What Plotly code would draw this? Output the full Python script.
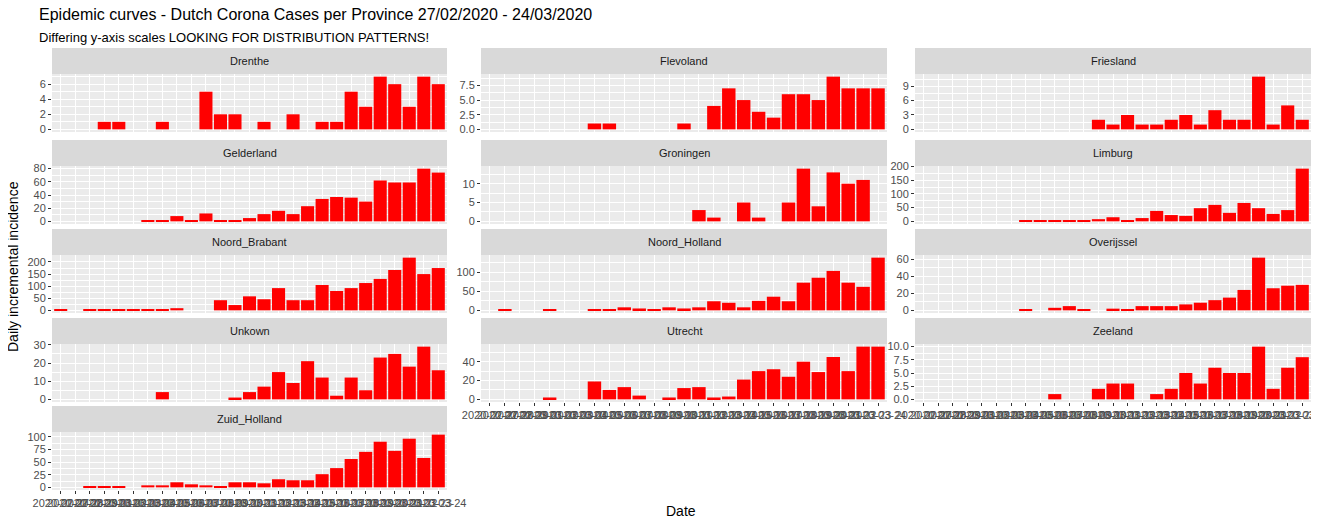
import plotly.graph_objects as go
import pandas as pd

dates = [d.strftime("%Y-%m-%d") for d in pd.date_range("2020-02-27", "2020-03-24")]

provinces = ["Drenthe", "Flevoland", "Friesland", "Gelderland", "Groningen", "Limburg",
             "Noord_Brabant", "Noord_Holland", "Overijssel", "Unkown", "Utrecht", "Zeeland", "Zuid_Holland"]

drenthe = [0,0,0,1,1,0,0,1,0,0,5,2,2,0,1,0,2,0,1,1,5,3,7,6,3,7,6]
flevoland = [0,0,0,0,0,0,0,1,1,0,0,0,0,1,0,4,7,5,3,2,6,6,5,9,7,7,7]
friesland = [0]*12 + [2,1,3,1,1,2,3,1,4,2,2,11,1,5,2]
gelderland = [0]*6 + [1,1,8,2,12,1,2,5,11,16,11,23,34,37,36,30,62,59,59,80,74]
groningen = [0]*14 + [3,1,0,5,1,0,5,14,4,13,10,11,0]
limburg = [0]*7 + [2,5,2,5,5,8,15,5,12,38,23,20,48,60,31,67,48,27,41,192]
noord_brabant = [2,0,2,2,2,2,5,5,9,0,0,42,22,58,46,92,42,42,105,80,92,113,130,167,218,150,175]
noord_holland = [0,2,0,0,2,0,0,2,2,8,5,2,8,5,8,24,20,8,25,36,24,73,86,104,73,62,139]
overijssel = [0]*7 + [1,0,3,5,1,0,2,1,5,5,5,7,9,12,15,24,62,26,29,30]
unkown = [0]*7 + [4,0,0,0,0,1,4,7,15,9,21,12,2,12,5,23,25,18,29,16]
utrecht = [0,0,0,0,2,0,0,19,10,13,4,0,2,12,13,2,3,21,30,32,24,40,29,45,30,56,56]
zeeland = [0]*9 + [1,0,0,2,3,3,0,1,2,5,3,6,5,5,10,2,6,8]
zuid_holland = [0,0,1,1,1,0,4,4,10,6,4,2,10,10,8,16,14,14,26,38,56,70,90,72,96,58,104]

values = [drenthe, flevoland, friesland, gelderland, groningen, limburg, noord_brabant,
          noord_holland, overijssel, unkown, utrecht, zeeland, zuid_holland]

yticks = [
    [0,2,4,6], [0,2.5,5,7.5], [0,3,6,9], [0,20,40,60,80], [0,5,10], [0,50,100,150,200],
    [0,50,100,150,200], [0,50,100], [0,20,40,60], [0,10,20,30], [0,20,40], [0,2.5,5,7.5,10],
    [0,25,50,75,100],
]
ytick_text = [
    ["0","2","4","6"], ["0.0","2.5","5.0","7.5"], ["0","3","6","9"], ["0","20","40","60","80"],
    ["0","5","10"], ["0","50","100","150","200"], ["0","50","100","150","200"], ["0","50","100"],
    ["0","20","40","60"], ["0","10","20","30"], ["0","20","40"], ["0.0","2.5","5.0","7.5","10.0"],
    ["0","25","50","75","100"],
]

OFF = 8  # page body margin
W, H = 1319 - 2 * OFF, 526 - 2 * OFF
col_x = [(52, 447), (481, 887), (915, 1311)]
row_strip_top = [48, 140, 229, 318, 406]
strip_h = 26
panel_h = 58

def px(x):
    return (x - OFF) / W

def py(y):
    return 1 - (y - OFF) / H

fig = go.Figure()
shapes = []
annotations = []
bottom_panels = {12, 10, 11}

for i, (name, vals) in enumerate(zip(provinces, values)):
    r, c = divmod(i, 3)
    x0, x1 = col_x[c]
    st = row_strip_top[r]
    p0 = st + strip_h
    p1 = p0 + panel_h
    n = i + 1
    xa = "x" if n == 1 else f"x{n}"
    ya = "y" if n == 1 else f"y{n}"
    fig.add_trace(go.Bar(x=dates, y=vals, xaxis=xa, yaxis=ya, marker_color="#FF0000",
                         marker_line_width=0, width=0.9, showlegend=False))
    mx = max(vals)
    step = yticks[i][1] - yticks[i][0]
    show_x = i in bottom_panels
    fig.update_layout(**{
        ("xaxis" if n == 1 else f"xaxis{n}"): dict(
            domain=[px(x0), px(x1)], anchor=ya, type="category", automargin=False,
            range=[-0.6, len(dates) - 0.4], showgrid=True, gridcolor="white", gridwidth=1.1,
            tickmode="array", tickvals=dates, ticktext=dates if show_x else [""] * len(dates),
            showticklabels=show_x, tickangle=0, ticks="outside" if show_x else "",
            ticklen=3, tickcolor="#333333", tickfont=dict(size=11, color="#4D4D4D"),
            zeroline=False, fixedrange=True),
        ("yaxis" if n == 1 else f"yaxis{n}"): dict(
            domain=[py(p1), py(p0)], anchor=xa, automargin=False,
            range=[-0.05 * mx, 1.05 * mx], tickmode="array", tickvals=yticks[i],
            ticktext=ytick_text[i], ticks="outside", ticklen=3, tickcolor="#333333",
            tickfont=dict(size=11, color="#4D4D4D"), showgrid=True, gridcolor="white",
            gridwidth=1.1, zeroline=False,
            minor=dict(showgrid=True, gridcolor="white", gridwidth=0.5, dtick=step / 2,
                       tick0=0),
            fixedrange=True),
    })
    shapes.append(dict(type="rect", xref="paper", yref="paper", x0=px(x0), x1=px(x1),
                       y0=py(p1), y1=py(p0), fillcolor="#EBEBEB", line_width=0,
                       layer="below"))
    shapes.append(dict(type="rect", xref="paper", yref="paper", x0=px(x0), x1=px(x1),
                       y0=py(p0), y1=py(st), fillcolor="#D9D9D9", line_width=0))
    annotations.append(dict(text=name, xref="paper", yref="paper", x=px((x0 + x1) / 2),
                            y=py(st + strip_h / 2), showarrow=False,
                            font=dict(size=11, color="#1A1A1A"), xanchor="center",
                            yanchor="middle"))

annotations += [
    dict(text="Epidemic curves - Dutch Corona Cases per Province 27/02/2020 - 24/03/2020",
         xref="paper", yref="paper", x=px(37), y=py(15), showarrow=False,
         xanchor="left", yanchor="middle", font=dict(size=16, color="black")),
    dict(text="Differing y-axis scales LOOKING FOR DISTRIBUTION PATTERNS!",
         xref="paper", yref="paper", x=px(37), y=py(37), showarrow=False,
         xanchor="left", yanchor="middle", font=dict(size=13, color="black")),
    dict(text="Date", xref="paper", yref="paper", x=px(681), y=py(511), showarrow=False,
         xanchor="center", yanchor="middle", font=dict(size=14, color="black")),
    dict(text="Daily incremental incidence", xref="paper", yref="paper", x=px(13),
         y=py(267), showarrow=False, textangle=-90, xanchor="center", yanchor="middle",
         font=dict(size=14, color="black")),
]

fig.update_layout(width=W, height=H, margin=dict(l=0, r=0, t=0, b=0, autoexpand=False),
                  paper_bgcolor="white", plot_bgcolor="#EBEBEB", shapes=shapes,
                  annotations=annotations, bargap=0.1,
                  font=dict(family="Liberation Sans, Arial, sans-serif"))
fig.write_html("out.html")
